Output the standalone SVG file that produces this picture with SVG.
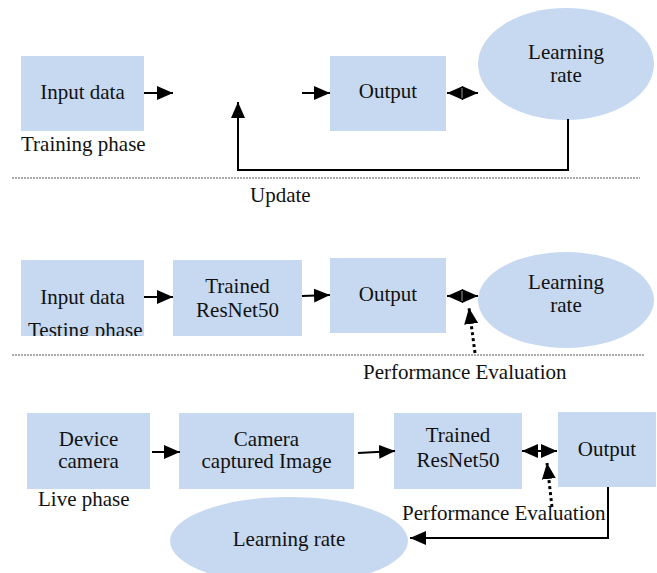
<svg xmlns="http://www.w3.org/2000/svg" width="657" height="573" viewBox="0 0 657 573">
<style>
.box{fill:#c6d9f0}
.t{font-family:"Liberation Serif","Times New Roman",serif;font-size:21px;fill:#111}
.m{text-anchor:middle}
.ln{stroke:#000;stroke-width:2;fill:none}
.dot{stroke:#000;stroke-width:3;stroke-dasharray:3,3;fill:none}
.sep{stroke:#555;stroke-width:1;stroke-dasharray:2,1;fill:none}
</style>
<defs>
<marker id="ah" markerUnits="userSpaceOnUse" markerWidth="16" markerHeight="14" refX="16" refY="7" orient="auto-start-reverse">
<path d="M0,0 L16,7 L0,14 Z" fill="#000"/>
</marker>
<clipPath id="clipIn2"><rect x="21" y="260" width="123" height="76"/></clipPath>
</defs>

<!-- Training phase -->
<g id="in1"><rect class="box" x="21" y="56" width="123" height="75"/><text class="t m" x="82.5" y="99">Input data</text></g>
<text class="t" x="21" y="151">Training phase</text>
<g id="out1"><rect class="box" x="330" y="56" width="116" height="75"/><text class="t m" x="388" y="98">Output</text></g>
<g id="lr1"><ellipse class="box" cx="566" cy="64" rx="88" ry="56"/><text class="t m" x="566" y="59">Learning</text><text class="t m" x="566" y="82">rate</text></g>
<line class="sep" x1="12" y1="178" x2="640" y2="178"/>
<text class="t" x="250" y="202">Update</text>

<!-- Testing phase -->
<g id="in2"><rect class="box" x="21" y="260" width="123" height="76"/><text class="t m" x="82.5" y="304">Input data</text><text class="t" x="28" y="337" clip-path="url(#clipIn2)">Testing phase</text></g>
<g id="res2"><rect class="box" x="173" y="260" width="129" height="76"/><text class="t m" x="237.5" y="293">Trained</text><text class="t m" x="237.5" y="317">ResNet50</text></g>
<g id="out2"><rect class="box" x="330" y="258" width="116" height="75"/><text class="t m" x="388" y="301">Output</text></g>
<g id="lr2"><ellipse class="box" cx="566" cy="300" rx="88" ry="48"/><text class="t m" x="566" y="289">Learning</text><text class="t m" x="566" y="312">rate</text></g>
<line class="sep" x1="12" y1="355" x2="645" y2="355"/>
<text class="t" x="363" y="379">Performance Evaluation</text>

<!-- Live phase -->
<g id="dev3"><rect class="box" x="27" y="413" width="123" height="76"/><text class="t m" x="88.5" y="446">Device</text><text class="t m" x="88.5" y="468">camera</text></g>
<text class="t" x="38" y="506">Live phase</text>
<g id="cam3"><rect class="box" x="179" y="413" width="175" height="76"/><text class="t m" x="266.5" y="446">Camera</text><text class="t m" x="266.5" y="468">captured Image</text></g>
<g id="res3"><rect class="box" x="394" y="413" width="128" height="76"/><text class="t m" x="458" y="442">Trained</text><text class="t m" x="458" y="467">ResNet50</text></g>
<g id="out3"><rect class="box" x="558" y="412" width="98" height="75"/><text class="t m" x="607" y="456">Output</text></g>
<g id="lr3"><ellipse class="box" cx="289" cy="541" rx="119" ry="44"/><text class="t m" x="289" y="546">Learning rate</text></g>
<text class="t" x="402" y="520">Performance Evaluation</text>

<g id="connectors">
<line class="ln" x1="144" y1="93" x2="173" y2="93" marker-end="url(#ah)"/>
<line class="ln" x1="302" y1="93" x2="330" y2="93" marker-end="url(#ah)"/>
<line class="ln" x1="447" y1="93" x2="478" y2="93" marker-start="url(#ah)" marker-end="url(#ah)"/>
<line x1="462" y1="88" x2="462" y2="98" stroke="#999" stroke-width="1"/>
<polyline class="ln" points="568,119 568,170 238,170 238,102" marker-end="url(#ah)"/>

<line class="ln" x1="144" y1="297" x2="173" y2="297" marker-end="url(#ah)"/>
<line class="ln" x1="302" y1="296" x2="330" y2="295" marker-end="url(#ah)"/>
<line class="ln" x1="447" y1="296" x2="478" y2="296" marker-start="url(#ah)" marker-end="url(#ah)"/>
<line x1="462" y1="291" x2="462" y2="301" stroke="#999" stroke-width="1"/>
<line class="dot" x1="475" y1="353" x2="469" y2="308" marker-end="url(#ah)"/>

<line class="ln" x1="152" y1="452" x2="180" y2="452" marker-end="url(#ah)"/>
<line class="ln" x1="358" y1="453" x2="395" y2="451" marker-end="url(#ah)"/>
<line class="ln" x1="522" y1="451" x2="557" y2="451" marker-start="url(#ah)" marker-end="url(#ah)"/>
<line class="dot" x1="552" y1="507" x2="547" y2="463" marker-end="url(#ah)"/>
<polyline class="ln" points="608,487 608,538 410,538" marker-end="url(#ah)"/>
</g>
</svg>
